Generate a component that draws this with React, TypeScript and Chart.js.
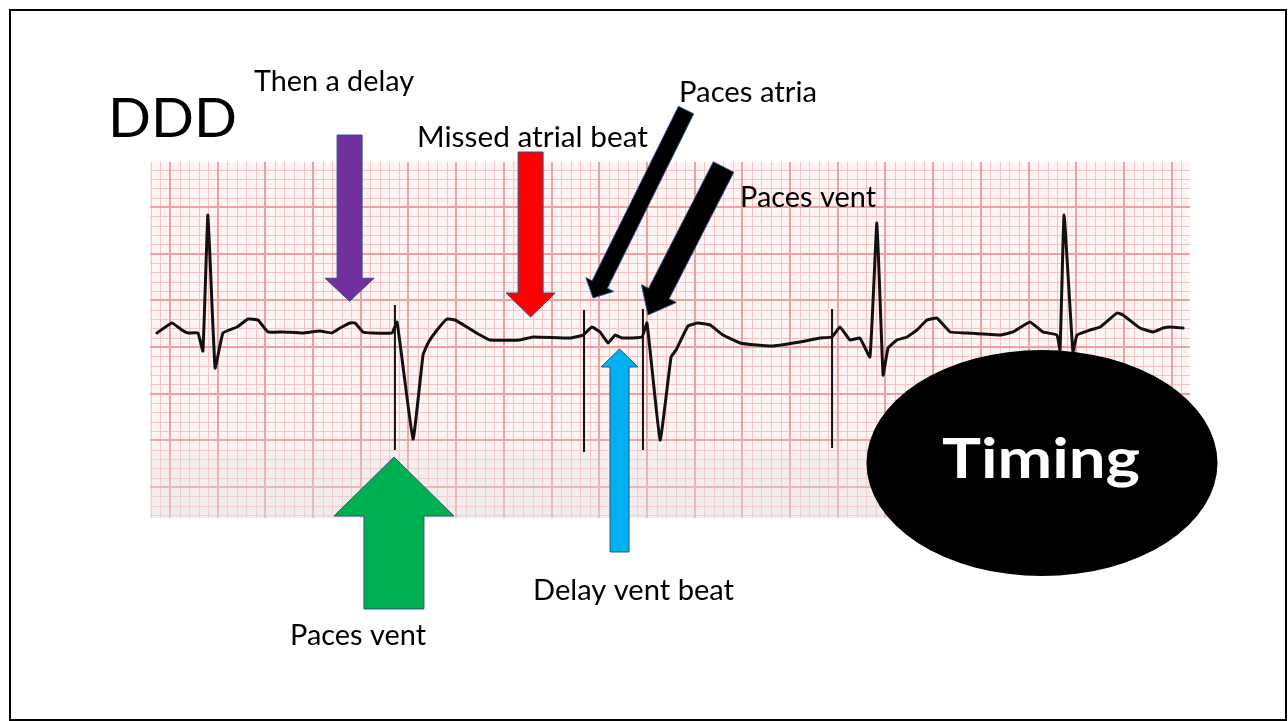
import React, { useEffect, useRef } from "react";
import { Chart, registerables } from "chart.js";

Chart.register(...registerables);

// ECG trace: time (ms) and amplitude (mV)
const traceTimeMs = [
  -55, 8, 50, 75, 117, 138, 159, 189, 222, 281, 327, 369, 411, 474, 558, 629, 679, 713, 755, 776, 809, 851, 931,
  952, 1019, 1061, 1082, 1120, 1161, 1195, 1245, 1300, 1342, 1468, 1522, 1677, 1732,
  1769, 1803, 1837, 1866, 1895, 1979,
  2000, 2055, 2101, 2122, 2172, 2214, 2264, 2319, 2390, 2461, 2528, 2642, 2725, 2776,
  2809, 2851, 2893, 2935, 2964, 2990, 3011, 3048, 3090, 3132, 3174, 3216, 3271, 3342, 3480, 3535, 3606, 3660,
  3719, 3732, 3749, 3786, 3803, 3858, 3900, 3971, 3996, 4067, 4122, 4164, 4193, 4248,
];
const traceMv = [
  0.15, 0.257, 0.182, 0.15, 0.15, -0.043, 1.413, -0.225, 0.15, 0.214, 0.3, 0.289, 0.161, 0.161, 0.15, 0.171, 0.15, 0.203, 0.257, 0.257, 0.161, 0.15, 0.15,
  0.268, -0.985, -0.086, 0.043, 0.182, 0.3, 0.289, 0.214, 0.128, 0.075, 0.075, 0.107, 0.096, 0.128,
  0.214, 0.161, 0.043, 0.128, 0.096, 0.107,
  0.257, -0.996, -0.107, -0.032, 0.225, 0.257, 0.236, 0.128, 0.043, 0.021, 0.011, 0.054, 0.096, 0.107,
  0.214, 0.075, 0.096, -0.107, 1.328, -0.3, -0.011, 0.075, 0.107, 0.182, 0.289, 0.31, 0.161, 0.15, 0.128, 0.161, 0.268, 0.161,
  0.128, -0.032, 1.413, -0.054, 0.128, 0.182, 0.214, 0.364, 0.343, 0.203, 0.161, 0.203, 0.214, 0.203,
];

// Pacemaker spikes
const spikeTimeMs = [943, 1736, 1983, 2776];
const spikeTopMv = [0.45, 0.396, 0.407, 0.407];
const spikeBottomMv = [-1.103, -1.124, -1.103, -1.081];

// Axis ranges (ms, mV) and ECG paper grid (small box 40 ms / 0.1 mV, large box 200 ms / 0.5 mV)
const X_MIN = -83.9;
const X_MAX = 4276.9;
const Y_MIN = -1.831;
const Y_MAX = 1.981;
const SMALL_BOX_MS = 40;
const SMALL_BOX_MV = 0.1;

// Annotation arrows (tail/tip in data units: ms, mV)
const arrowSpecs = [
  { color: "#7030A0", tail: [753, 2.27], tip: [753, 0.49], shaft: 25, head: 49, headLen: 23 },
  { color: "#FF0000", tail: [1512, 2.088], tip: [1512, 0.321], shaft: 25, head: 49, headLen: 24 },
  { color: "#000000", tail: [2164, 2.537], tip: [1774, 0.525], shaft: 17, head: 31, headLen: 15 },
  { color: "#000000", tail: [2321, 1.927], tip: [2004, 0.343], shaft: 23, head: 39, headLen: 24 },
  { color: "#00B050", tail: [939, -2.805], tip: [939, -1.178], shaft: 60, head: 120, headLen: 59 },
  { color: "#00B0F0", tail: [1885, -2.195], tip: [1885, -0.021], shaft: 19, head: 37, headLen: 18 },
];

const textLabels = [
  { text: "DDD", left: 108, right: 237, baseline: 137, size: 54, weight: "400", color: "#000" },
  { text: "Then a delay", left: 254, right: 414, baseline: 91, size: 28, weight: "400", color: "#000" },
  { text: "Missed atrial beat", left: 417, right: 648, baseline: 147, size: 28, weight: "400", color: "#000" },
  { text: "Paces atria", left: 679, right: 817, baseline: 102, size: 28, weight: "400", color: "#000" },
  { text: "Paces vent", left: 740, right: 876, baseline: 207, size: 28, weight: "400", color: "#000" },
  { text: "Delay vent beat", left: 533, right: 734, baseline: 600, size: 28, weight: "400", color: "#000" },
  { text: "Paces vent", left: 290, right: 426, baseline: 645, size: 28, weight: "400", color: "#000" },
];

function drawArrow(ctx: CanvasRenderingContext2D, x1: number, y1: number, x2: number, y2: number, shaft: number, head: number, headLen: number, color: string) {
  const dx = x2 - x1, dy = y2 - y1;
  const len = Math.hypot(dx, dy);
  const ux = dx / len, uy = dy / len;
  const nx = -uy, ny = ux;
  const bx = x2 - ux * headLen, by = y2 - uy * headLen;
  const s = shaft / 2, h = head / 2;
  ctx.beginPath();
  ctx.moveTo(x1 + nx * s, y1 + ny * s);
  ctx.lineTo(bx + nx * s, by + ny * s);
  ctx.lineTo(bx + nx * h, by + ny * h);
  ctx.lineTo(x2, y2);
  ctx.lineTo(bx - nx * h, by - ny * h);
  ctx.lineTo(bx - nx * s, by - ny * s);
  ctx.lineTo(x1 - nx * s, y1 - ny * s);
  ctx.closePath();
  ctx.fillStyle = color;
  ctx.fill();
  ctx.lineWidth = 1;
  ctx.strokeStyle = "#2F528F";
  ctx.stroke();
}

function drawFitText(ctx: CanvasRenderingContext2D, t: { text: string; left: number; right: number; baseline: number; size: number; weight: string; color: string }) {
  ctx.save();
  ctx.font = `${t.weight} ${t.size}px Lato, "Open Sans", sans-serif`;
  ctx.textBaseline = "alphabetic";
  ctx.textAlign = "left";
  const w = ctx.measureText(t.text).width;
  const sx = (t.right - t.left) / w;
  ctx.translate(t.left, t.baseline);
  ctx.scale(sx, 1);
  ctx.fillStyle = t.color;
  ctx.fillText(t.text, 0, 0);
  ctx.restore();
}

const slidePlugin = {
  id: "slideDecor",
  beforeDraw(chart: any) {
    const { ctx, chartArea } = chart;
    ctx.save();
    ctx.fillStyle = "#ffffff";
    ctx.fillRect(0, 0, chart.width, chart.height);
    ctx.fillStyle = "#fff4f4";
    ctx.fillRect(chartArea.left, chartArea.top, chartArea.right - chartArea.left, chartArea.bottom - chartArea.top);
    ctx.restore();
  },
  beforeDatasetsDraw(chart: any) {
    const { ctx, chartArea } = chart;
    const xs = chart.scales.x, ys = chart.scales.y;
    const { left, right, top, bottom } = chartArea;
    ctx.save();
    ctx.beginPath();
    ctx.rect(left, top, right - left, bottom - top);
    ctx.clip();
    const drawLines = (major: boolean) => {
      ctx.strokeStyle = major ? "#efa0a0" : "#f5c4c4";
      ctx.lineWidth = major ? 2 : 1;
      ctx.beginPath();
      const i0 = Math.ceil(X_MIN / SMALL_BOX_MS), i1 = Math.floor(X_MAX / SMALL_BOX_MS);
      for (let i = i0; i <= i1; i++) {
        if ((((i % 5) + 5) % 5 === 0) !== major) continue;
        let px = xs.getPixelForValue(i * SMALL_BOX_MS);
        px = major ? Math.round(px) : Math.round(px) + 0.5;
        ctx.moveTo(px, top);
        ctx.lineTo(px, bottom);
      }
      const j0 = Math.ceil(Y_MIN / SMALL_BOX_MV - 1e-9), j1 = Math.floor(Y_MAX / SMALL_BOX_MV + 1e-9);
      for (let j = j0; j <= j1; j++) {
        if ((((j % 5) + 5) % 5 === 0) !== major) continue;
        let py = ys.getPixelForValue(j * SMALL_BOX_MV);
        py = major ? Math.round(py) : Math.round(py) + 0.5;
        ctx.moveTo(left, py);
        ctx.lineTo(right, py);
      }
      ctx.stroke();
    };
    drawLines(false);
    drawLines(true);
    // faded lower part of the paper
    const y0 = bottom - 90;
    const g = ctx.createLinearGradient(0, y0, 0, bottom);
    g.addColorStop(0, "rgba(225,225,225,0)");
    g.addColorStop(0.35, "rgba(225,225,225,0.3)");
    g.addColorStop(1, "rgba(225,225,225,0.45)");
    ctx.fillStyle = g;
    ctx.fillRect(left, y0, right - left, bottom - y0);
    ctx.restore();
  },
  afterDraw(chart: any) {
    const { ctx } = chart;
    const xs = chart.scales.x, ys = chart.scales.y;
    ctx.save();
    for (const a of arrowSpecs) {
      drawArrow(
        ctx,
        xs.getPixelForValue(a.tail[0]), ys.getPixelForValue(a.tail[1]),
        xs.getPixelForValue(a.tip[0]), ys.getPixelForValue(a.tip[1]),
        a.shaft, a.head, a.headLen, a.color
      );
    }
    // Timing ellipse
    ctx.beginPath();
    ctx.ellipse(1042, 463, 175.5, 113, 0, 0, Math.PI * 2);
    ctx.fillStyle = "#000";
    ctx.fill();
    drawFitText(ctx, { text: "Timing", left: 942, right: 1140, baseline: 478, size: 56, weight: "700", color: "#fff" });
    for (const t of textLabels) drawFitText(ctx, t);
    // slide border
    ctx.lineWidth = 2;
    ctx.strokeStyle = "#000";
    ctx.strokeRect(10, 10, 1276, 710);
    ctx.restore();
  },
};

export default function App() {
  const canvasRef = useRef<HTMLCanvasElement | null>(null);
  useEffect(() => {
    if (!canvasRef.current) return;
    const traceData = traceTimeMs.map((t, i) => ({ x: t, y: traceMv[i] }));
    const spikeData: { x: number; y: number | null }[] = [];
    spikeTimeMs.forEach((t, i) => {
      spikeData.push({ x: t, y: spikeTopMv[i] });
      spikeData.push({ x: t, y: spikeBottomMv[i] });
      spikeData.push({ x: t, y: null });
    });
    const chart = new Chart(canvasRef.current, {
      type: "line",
      data: {
        datasets: [
          {
            label: "ECG",
            data: traceData,
            borderColor: "#111111",
            borderWidth: 3,
            pointRadius: 0,
            tension: 0.1,
            borderJoinStyle: "round",
            borderCapStyle: "round",
          },
          {
            label: "Pacing spikes",
            data: spikeData as any,
            borderColor: "#111111",
            borderWidth: 2,
            pointRadius: 0,
            spanGaps: false,
          },
        ],
      },
      options: {
        responsive: false,
        animation: false,
        devicePixelRatio: 1,
        events: [],
        layout: { padding: { left: 150, top: 162, right: 98, bottom: 203 } },
        plugins: { legend: { display: false }, tooltip: { enabled: false } },
        scales: {
          x: {
            type: "linear",
            min: X_MIN,
            max: X_MAX,
            border: { display: false },
            ticks: { display: false },
            grid: { display: false, drawTicks: false },
          },
          y: {
            type: "linear",
            min: Y_MIN,
            max: Y_MAX,
            border: { display: false },
            ticks: { display: false },
            grid: { display: false, drawTicks: false },
          },
        },
      },
      plugins: [slidePlugin],
    } as any);
    return () => chart.destroy();
  }, []);
  return (
    <div style={{ position: "fixed", left: 0, top: 0, width: 1288, height: 721, background: "#fff" }}>
      <canvas ref={canvasRef} width={1288} height={721} style={{ display: "block" }} />
    </div>
  );
}
